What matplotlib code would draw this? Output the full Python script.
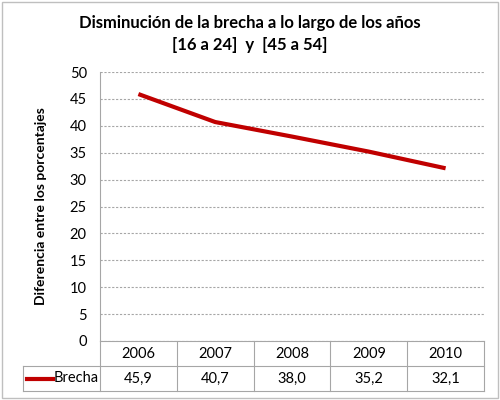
import matplotlib.pyplot as plt
from matplotlib.patches import Rectangle

years = ['2006', '2007', '2008', '2009', '2010']
brecha = [45.9, 40.7, 38.0, 35.2, 32.1]
brecha_labels = ['45,9', '40,7', '38,0', '35,2', '32,1']
series_name = 'Brecha'
y_ticks = list(range(0, 51, 5))

plt.rcParams['font.family'] = ['Lato', 'DejaVu Sans']
line_color = '#c00000'
grid_color = '#a6a6a6'

fig = plt.figure(figsize=(5, 4), dpi=100)
W, H = 500, 400

# plot area in pixel coordinates
x0, x1, ytop, ybot = 100, 484, 72, 341
ax = fig.add_axes([x0 / W, 1 - ybot / H, (x1 - x0) / W, (ybot - ytop) / H])

xs = list(range(len(years)))
ax.plot(xs, brecha, color=line_color, lw=3, solid_capstyle='butt')
ax.set_xlim(-0.5, len(years) - 0.5)
ax.set_ylim(0, 50)
ax.set_yticks(y_ticks)
ax.set_yticklabels([str(t) for t in y_ticks], fontsize=10.5)
ax.set_xticks([])
ax.tick_params(axis='y', length=0, pad=9.5)
ax.yaxis.grid(True, linestyle=(0, (2, 1.5)), color=grid_color, lw=0.8)
for s in ['top', 'bottom', 'right']:
    ax.spines[s].set_visible(False)
ax.spines['left'].set_color(grid_color)
ax.spines['left'].set_linewidth(0.8)
ax.set_ylabel('Diferencia entre los porcentajes', fontsize=10, fontweight='bold', labelpad=16)

# data table below the plot
def px(x, y):
    return x / W, 1 - y / H

col_w = (x1 - x0) / len(years)
row1_top, row1_bot, row2_bot = ybot, 366, 391
leg_left = 23
line_kw = dict(color=grid_color, lw=0.8, transform=fig.transFigure)

for y in [row1_top, row1_bot, row2_bot]:
    xa = x0 if y == row1_top else leg_left
    fig.add_artist(plt.Line2D([px(xa, 0)[0], px(x1, 0)[0]], [px(0, y)[1]] * 2, **line_kw))
for i in range(len(years) + 1):
    xv = x0 + i * col_w
    fig.add_artist(plt.Line2D([px(xv, 0)[0]] * 2, [px(0, row1_top)[1], px(0, row2_bot)[1]], **line_kw))
fig.add_artist(plt.Line2D([px(leg_left, 0)[0]] * 2, [px(0, row1_bot)[1], px(0, row2_bot)[1]], **line_kw))

for i, (yr, lab) in enumerate(zip(years, brecha_labels)):
    cx = x0 + (i + 0.5) * col_w
    fig.text(*px(cx, (row1_top + row1_bot) / 2), yr, ha='center', va='center', fontsize=10.5)
    fig.text(*px(cx, (row1_bot + row2_bot) / 2), lab, ha='center', va='center', fontsize=10.5)

# legend key in table
ym = (row1_bot + row2_bot) / 2
fig.add_artist(plt.Line2D([px(27, 0)[0], px(53, 0)[0]], [px(0, ym)[1]] * 2,
                          color=line_color, lw=3, transform=fig.transFigure))
fig.text(*px(54, ym), series_name, ha='left', va='center', fontsize=10.5)

# title
fig.text(0.5, 1 - 23 / H, 'Disminución de la brecha a lo largo de los años', ha='center', va='center',
         fontsize=12, fontweight='bold')
fig.text(0.5, 1 - 45 / H, '[16 a 24]  y  [45 a 54]', ha='center', va='center',
         fontsize=12, fontweight='bold')

# chart border
fig.add_artist(Rectangle((2 / W, 2 / H), 496 / W, 396 / H, transform=fig.transFigure,
                         fill=False, edgecolor='#bfbfbf', lw=1))

fig.savefig('out.png', dpi=100)
